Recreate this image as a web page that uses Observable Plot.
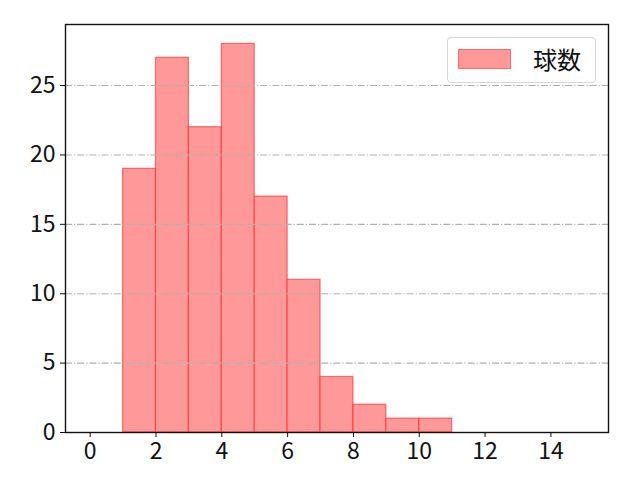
<!DOCTYPE html>
<html>
<head>
<meta charset="utf-8">
<script src="https://cdn.jsdelivr.net/npm/d3@7"></script>
<script src="https://cdn.jsdelivr.net/npm/@observablehq/plot@0.6"></script>
<style>
  html, body { margin: 0; padding: 0; background: #fff; }
  #wrap { position: relative; width: 640px; height: 480px; font-family: "Noto Sans CJK JP", "Noto Sans", sans-serif; }
  #legend { position: absolute; left: 447px; top: 37px; width: 149px; height: 46px; border: 1px solid #d6d6d6; border-radius: 4px; background: rgba(255,255,255,0.8); box-sizing: border-box; }
  #legend .patch { position: absolute; left: 10px; top: 11px; width: 53px; height: 20px; background: #ff9999; border: 1px solid #ff6a6a; box-sizing: border-box; }
  #legend .label { position: absolute; left: 85px; top: 4px; font-size: 24px; line-height: 34px; color: #111; }
</style>
</head>
<body>
<div id="wrap"><div id="legend"><div class="patch"></div><div class="label">球数</div></div></div>
<script>
const binStart = [1, 2, 3, 4, 5, 6, 7, 8, 9, 10];
const binEnd = [2, 3, 4, 5, 6, 7, 8, 9, 10, 11];
const counts = [19, 27, 22, 28, 17, 11, 4, 2, 1, 1];
const xTicks = [0, 2, 4, 6, 8, 10, 12, 14];
const yTicks = [0, 5, 10, 15, 20, 25];
const seriesName = "球数";

const data = binStart.map((s, i) => ({x1: s, x2: binEnd[i], y: counts[i]}));

const chart = Plot.plot({
  width: 640,
  height: 480,
  marginLeft: 65,
  marginRight: 32,
  marginTop: 24,
  marginBottom: 48,
  style: {fontFamily: '"Noto Sans CJK JP", "Noto Sans", sans-serif', fontSize: "23px", color: "#111", background: "#fff"},
  x: {domain: [-0.75, 15.75], label: null},
  y: {domain: [0, 29.4], label: null},
  marks: [
    Plot.rectY(data, {x1: "x1", x2: "x2", y: "y", fill: "#ff9999", stroke: "#ff2020", strokeOpacity: 0.6, strokeWidth: 1.2, inset: 0}),
    Plot.ruleY(yTicks.filter(d => d > 0), {stroke: "#b0b0b0", strokeWidth: 1.1, strokeDasharray: "7,2,1.2,2"}),
    Plot.frame({stroke: "#111", strokeWidth: 1.4}),
    Plot.axisX({ticks: xTicks, tickSize: 5, tickPadding: 5, fontSize: 23, stroke: "#111", tickFormat: d => String(d)}),
    Plot.axisY({ticks: yTicks, tickSize: 5, tickPadding: 5, fontSize: 23, stroke: "#111", tickFormat: d => String(d)})
  ]
});
document.getElementById("wrap").prepend(chart);
chart.style.position = "absolute";
chart.style.left = "0";
chart.style.top = "0";
</script>
</body>
</html>
